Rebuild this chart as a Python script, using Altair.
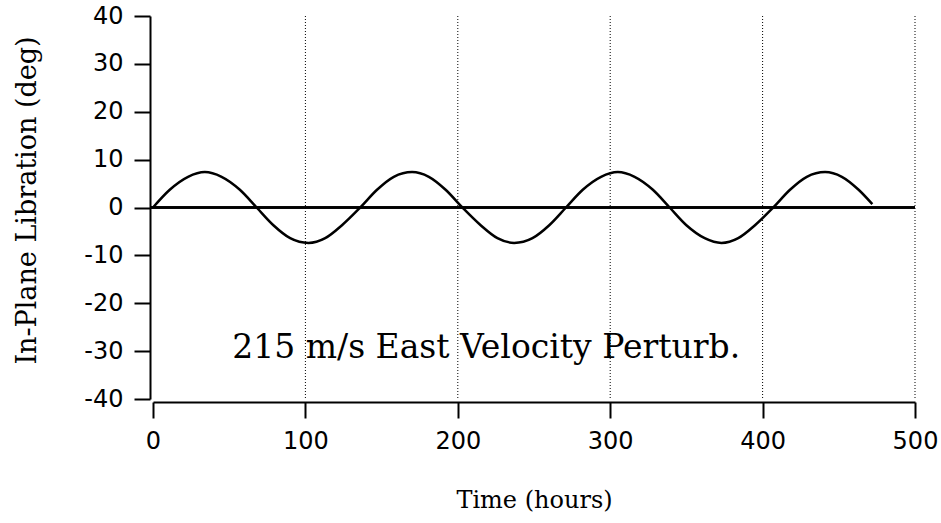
import altair as alt
import pandas as pd

# Values
hours = [0, 11, 23, 34, 45, 57, 68, 79, 90, 102, 113, 124, 136, 147, 158, 170,
         181, 192, 203, 215, 226, 237, 249, 260, 271, 282, 294, 305, 316, 328,
         339, 350, 362, 373, 384, 395, 407, 418, 429, 441, 452, 463, 472]
libration = [0, 3.7, 6.4, 7.4, 6.4, 3.7, 0, -3.7, -6.4, -7.4, -6.4, -3.7,
             0, 3.7, 6.4, 7.4, 6.4, 3.7, 0, -3.7, -6.4, -7.4, -6.4, -3.7,
             0, 3.7, 6.4, 7.4, 6.4, 3.7, 0, -3.7, -6.4, -7.4, -6.4, -3.7,
             0, 3.7, 6.4, 7.4, 6.4, 3.7, 0.7]
x_ticks = [0, 100, 200, 300, 400, 500]
y_ticks = [-40, -30, -20, -10, 0, 10, 20, 30, 40]
grid_x = [100, 200, 300, 400, 500]
annotation = ["215 m/s East Velocity Perturb."]
annotation_x = [52]
annotation_y = [-31.5]

df = pd.DataFrame({"t": hours, "v": libration})
grid_df = pd.DataFrame({"g": grid_x})
ann_df = pd.DataFrame({"label": annotation, "x": annotation_x, "y": annotation_y})

xscale = alt.Scale(domain=[0, 500], nice=False, zero=False)
yscale = alt.Scale(domain=[-40, 40], nice=False, zero=False)

sans = "DejaVu Sans"
serif = "DejaVu Serif"

grid = alt.Chart(grid_df).mark_rule(color="black", strokeWidth=1, strokeDash=[1, 2]).encode(
    x=alt.X("g:Q", scale=xscale),
    y=alt.value(0),
    y2=alt.value(383),
)

zero = alt.Chart(grid_df).mark_rule(color="black", strokeWidth=2).encode(
    y=alt.datum(0, scale=yscale),
    x=alt.value(-3),
    x2=alt.value(762),
)

line = alt.Chart(df).mark_line(color="black", strokeWidth=2.5, interpolate="monotone").encode(
    x=alt.X(
        "t:Q",
        scale=xscale,
        axis=alt.Axis(
            values=x_ticks,
            title="Time (hours)",
            titleFont=serif,
            titleFontSize=24,
            titleFontWeight="normal",
            titleColor="black",
            titlePadding=35,
            labelFont=sans,
            labelFontSize=24,
            labelColor="black",
            labelPadding=11,
            tickSize=16,
            tickWidth=2,
            tickColor="black",
            domainColor="black",
            domainWidth=2,
            offset=3,
            grid=False,
            labelFlush=False,
        ),
    ),
    y=alt.Y(
        "v:Q",
        scale=yscale,
        axis=alt.Axis(
            values=y_ticks,
            labelExpr="'' + datum.value",
            title="In-Plane Libration (deg)",
            titleFont=serif,
            titleFontSize=27,
            titleFontWeight="normal",
            titleColor="black",
            titlePadding=42,
            titleY=184,
            labelFont=sans,
            labelFontSize=24,
            labelColor="black",
            labelPadding=11,
            tickSize=16,
            tickWidth=2,
            tickColor="black",
            domainColor="black",
            domainWidth=2,
            offset=3,
            grid=False,
            labelFlush=False,
        ),
    ),
)

text = alt.Chart(ann_df).mark_text(
    align="left", baseline="alphabetic", font=serif, fontSize=33, color="black"
).encode(
    x=alt.X("x:Q", scale=xscale),
    y=alt.Y("y:Q", scale=yscale),
    text="label:N",
)

chart = alt.layer(grid, zero, line, text).properties(
    width=762,
    height=383,
    autosize=alt.AutoSizeParams(type="none"),
    padding={"left": 153, "top": 16, "right": 26, "bottom": 124},
).configure(background="white").configure_view(stroke=None)

chart.save("out.html", embed_options={"renderer": "svg", "actions": False})
